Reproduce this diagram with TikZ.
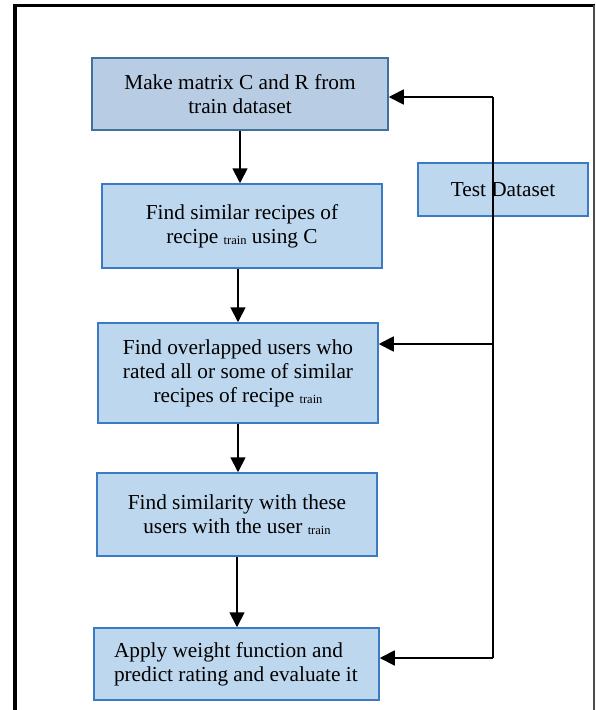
\documentclass[tikz,border=0pt]{standalone}
\usepackage{fontspec}
\setmainfont{Liberation Serif}
\usetikzlibrary{positioning,arrows.meta,calc}
\definecolor{fillA}{HTML}{B8CCE4}
\definecolor{fillB}{HTML}{BDD7EE}
\definecolor{edgeA}{HTML}{41719C}
\definecolor{edgeB}{HTML}{3A7BC4}
\newcommand{\trn}{\raisebox{-1.5pt}{\fontsize{12.5}{12.5}\selectfont train}}
\tikzset{
  blk/.style={draw=edgeB,fill=fillB,line width=1.5pt,align=center,font=\fontsize{21.3}{24}\selectfont,inner sep=0pt,minimum width=280pt},
  blkA/.style={blk,draw=edgeA,fill=fillA},
  arr/.style={-{Triangle[length=15pt,width=15pt]},line width=1.8pt,draw=black},
}
\begin{document}
\begin{tikzpicture}[x=1pt,y=-1pt]
\useasboundingbox (0,0) rectangle (595,710);
% frame
\draw[line width=4pt] (15,712) -- (15,5.5);
\draw[line width=3pt] (13,5.5) -- (595,5.5);
\draw[line width=1.2pt,draw=black!70] (594,5) -- (594,712);
% main column
\node[blkA,minimum width=296pt,minimum height=72pt] (mk) at (240,94) {Make matrix C and R from\\train dataset};
\node[blk,minimum height=84pt] (sim) at (242,226) {Find similar recipes of\\recipe \trn\ using C};
\node[blk,minimum height=100pt] (ovl) at (238,373) {Find overlapped users who\\rated all or some of similar\\recipes of recipe \trn};
\node[blk,minimum height=83pt] (usr) at (237,514.5) {Find similarity with these\\users with the user \trn};
\node[blk,align=flush left,text width=245pt,inner xsep=20pt,minimum height=72pt] (app) at (236.5,664) {Apply weight function and\\predict rating and evaluate it};
\draw[arr] (mk.south) -- (mk.south |- sim.north);
\draw[arr] (ovl.north |- sim.south) -- (ovl.north);
\draw[arr] (ovl.south) -- (ovl.south |- usr.north);
\draw[arr] (usr.south) -- (usr.south |- app.north);
% test data feed
\node[blk,minimum width=170pt,minimum height=53pt] (tst) at (503,189.5) {Test Dataset};
\coordinate (fTop) at (493,97);
\coordinate (fMid) at (493,344);
\coordinate (fBot) at (493,658);
\draw[line width=1.8pt] (fTop) -- (fBot);
\draw[arr] (fTop) -- (fTop -| mk.east);
\draw[arr] (fMid) -- (fMid -| ovl.east);
\draw[arr] (fBot) -- (fBot -| app.east);
\end{tikzpicture}
\end{document}
